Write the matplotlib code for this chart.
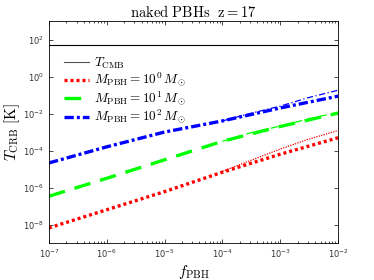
import matplotlib
matplotlib.use("Agg")
from matplotlib import pyplot as plt
import numpy as np

plt.rcParams['mathtext.fontset'] = 'cm'

# valores (log10)
f_pbh = [1e-7, 1e-6, 1e-5, 1e-4, 1e-3, 1e-2]
t_cmb = 49.0

logT_m0 = [-8.18, -7.2, -6.22, -5.17, -4.2, -3.31]
logT_m1 = [-6.47, -5.5, -4.5, -3.5, -2.7, -1.98]
logT_m2 = [-4.67, -3.8, -3.0, -2.4, -1.7, -1.06]

# curvas finas (se separan al final)
f_fina = [1e-4, 3e-4, 1e-3, 3e-3, 1e-2]
logT_m0_fina = [-5.12, -4.55, -3.92, -3.4, -2.92]
logT_m1_fina = [-3.5, -3.05, -2.68, -2.3, -1.93]
logT_m2_fina = [-2.4, -2.0, -1.6, -1.15, -0.74]

etiquetas = [r'$M_{\rm PBH}=10^0\,M_\odot$', r'$M_{\rm PBH}=10^1\,M_\odot$', r'$M_{\rm PBH}=10^2\,M_\odot$']

fig = plt.figure(figsize=(3.74, 2.80), dpi=100)
ax = fig.add_axes([0.131, 0.132, 0.773, 0.793])

ax.axhline(t_cmb, color='k', lw=0.8, label=r'$T_{\rm CMB}$')

ax.plot(f_fina, 10**np.array(logT_m0_fina), color='red', lw=0.9, ls=(0, (1, 1)))
ax.plot(f_fina, 10**np.array(logT_m1_fina), color='lime', lw=0.9, ls=(0, (6, 4)))
ax.plot(f_fina, 10**np.array(logT_m2_fina), color='blue', lw=0.9, ls=(0, (5, 2, 1, 2)))

ax.plot(f_pbh, 10**np.array(logT_m0), color='red', lw=2.4, ls=(0, (0.9, 0.9)), label=etiquetas[0])
ax.plot(f_pbh, 10**np.array(logT_m1), color='lime', lw=2.4, ls=(0, (5, 3)), label=etiquetas[1])
ax.plot(f_pbh, 10**np.array(logT_m2), color='blue', lw=2.4, ls=(0, (2.8, 0.9, 0.9, 0.9)), label=etiquetas[2])

ax.set_xscale('log')
ax.set_yscale('log')
ax.set_xlim(1e-7, 1e-2)
ax.set_ylim(1e-9, 1e3)
ax.set_xticks([1e-7, 1e-6, 1e-5, 1e-4, 1e-3, 1e-2])
ax.set_yticks([1e-8, 1e-6, 1e-4, 1e-2, 1e0, 1e2])
ax.tick_params(which='both', direction='in', top=True, right=True, labelsize=6, labelcolor='#333333', width=0.5)
ax.tick_params(which='major', length=3)
ax.tick_params(which='minor', length=1.5)
for s in ax.spines.values():
    s.set_linewidth(0.6)

ax.set_title(r'$\mathrm{naked\ PBHs\ \ z=17}$', fontsize=10.5, pad=3)
ax.set_xlabel(r'$f_{\rm PBH}$', fontsize=11, labelpad=2)
ax.set_ylabel(r'$T_{\rm CRB}\ [\rm K]$', fontsize=11, labelpad=1)

leg = ax.legend(loc='upper left', bbox_to_anchor=(0.02, 0.885), frameon=False, fontsize=9.5,
                handlelength=1.9, handletextpad=0.35, labelspacing=0.02, borderaxespad=0.3)
leg.get_lines()[0].set_color('#555555')

fig.savefig('out.png', dpi=100)
